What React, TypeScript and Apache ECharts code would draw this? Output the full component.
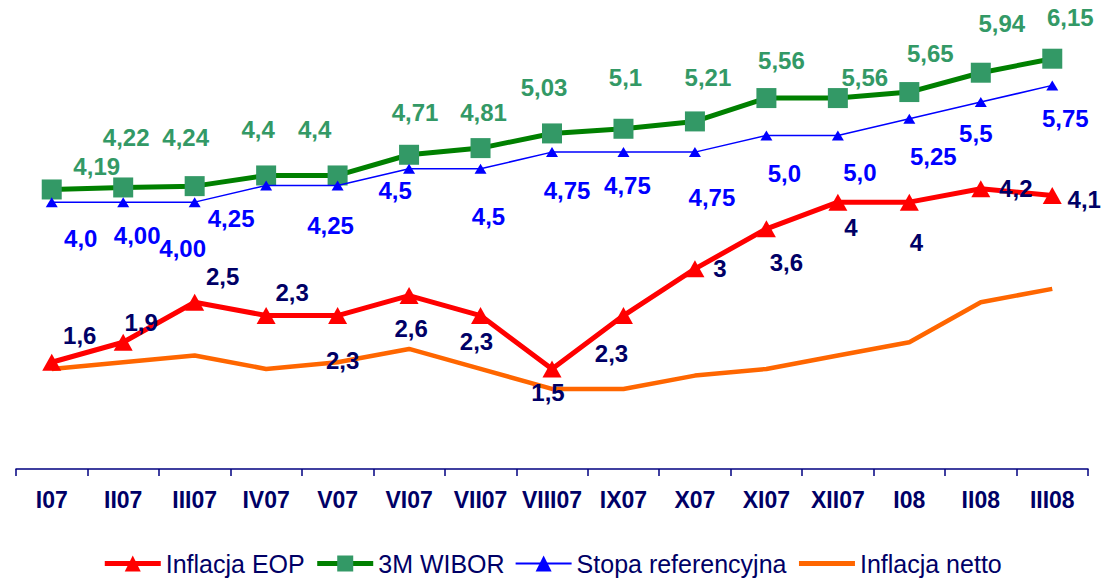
import React, { useEffect, useRef } from "react";
import * as echarts from "echarts";

const categories = ["I07", "II07", "III07", "IV07", "V07", "VI07", "VII07", "VIII07", "IX07", "X07", "XI07", "XII07", "I08", "II08", "III08"];
const inflacjaEOP = [1.6, 1.9, 2.5, 2.3, 2.3, 2.6, 2.3, 1.5, 2.3, 3.0, 3.6, 4.0, 4.0, 4.2, 4.1];
const wibor3M = [4.19, 4.22, 4.24, 4.4, 4.4, 4.71, 4.81, 5.03, 5.1, 5.21, 5.56, 5.56, 5.65, 5.94, 6.15];
const stopaRef = [4.0, 4.0, 4.0, 4.25, 4.25, 4.5, 4.5, 4.75, 4.75, 4.75, 5.0, 5.0, 5.25, 5.5, 5.75];
const stopaRefLabels = ["4,0", "4,00", "4,00", "4,25", "4,25", "4,5", "4,5", "4,75", "4,75", "4,75", "5,0", "5,0", "5,25", "5,5", "5,75"];
const inflacjaNetto = [1.5, 1.6, 1.7, 1.5, 1.6, 1.8, 1.5, 1.2, 1.2, 1.4, 1.5, 1.7, 1.9, 2.5, 2.7];
const seriesNames = ["Inflacja EOP", "3M WIBOR", "Stopa referencyjna", "Inflacja netto"];

// label placement (style only)
const redOffsets = [[28, -27], [18, -20], [28, -26], [26, -23], [5, 45], [2, 33], [-4, 26], [-4, 24], [-12, 38], [25, 0], [20, 34], [13, 25], [7, 40], [35, 0], [32, 4]];
const greenOffsets = [[45, -23], [3, -50], [-9, -49], [-8, -46], [-23, -46], [6, -42], [3, -36], [-8, -46], [2, -51], [13, -44], [15, -38], [27, -21], [21, -39], [21, -49], [18, -41]];
const blueOffsets = [[29, 36], [14, 33], [-12, 46], [-35, 33], [-7, 40], [-14, 22], [8, 48], [15, 38], [4, 33], [17, 45], [18, 38], [22, 37], [24, 38], [-5, 31], [13, 33]];

const fmt = (v: number) => String(v).replace(".", ",");
const FONT = "'Liberation Sans', Arial, sans-serif";

export default function App() {
  const ref = useRef<HTMLDivElement>(null);
  useEffect(() => {
    if (!ref.current) return;
    const chart = echarts.init(ref.current, undefined, { renderer: "svg" });
    const lbl = (color: string) => ({
      show: true,
      position: "inside",
      align: "center",
      verticalAlign: "middle",
      color,
      fontFamily: FONT,
      fontWeight: "bold",
      fontSize: 24,
    });
    chart.setOption({
      animation: false,
      backgroundColor: "#ffffff",
      grid: { left: 16, right: 16, top: 2, bottom: 112, containLabel: false },
      xAxis: {
        type: "category",
        data: categories,
        boundaryGap: true,
        axisLine: { lineStyle: { color: "#000080", width: 1.5 } },
        axisTick: { show: true, length: 7, lineStyle: { color: "#000080", width: 1.5 } },
        axisLabel: { color: "#000066", fontFamily: FONT, fontWeight: "bold", fontSize: 23, margin: 19, interval: 0 },
      },
      yAxis: { type: "value", min: 0, max: 7, show: false, splitLine: { show: false } },
      legend: {
        data: [
          { name: seriesNames[0], lineStyle: { width: 5 } },
          { name: seriesNames[1], lineStyle: { width: 5 } },
          { name: seriesNames[2], lineStyle: { width: 2 } },
          { name: seriesNames[3], lineStyle: { width: 5 }, itemStyle: { color: "rgba(0,0,0,0)", opacity: 0, borderWidth: 0 } },
        ],
        top: 546,
        left: "center",
        itemWidth: 56,
        itemHeight: 20,
        itemGap: 10,
        textStyle: { color: "#000066", fontFamily: FONT, fontSize: 25 },
      },
      series: [
        {
          name: seriesNames[3],
          type: "line",
          data: inflacjaNetto,
          symbol: "none",
          z: 1,
          itemStyle: { color: "#FF6600" },
          lineStyle: { color: "#FF6600", width: 4.5 },
        },
        {
          name: seriesNames[1],
          type: "line",
          z: 2,
          data: wibor3M.map((v, i) => ({ value: v, label: { offset: greenOffsets[i] } })),
          symbol: "rect",
          symbolSize: 20,
          showAllSymbol: true,
          itemStyle: { color: "#339966" },
          lineStyle: { color: "#008000", width: 5 },
          label: { ...lbl("#339966"), formatter: (p: any) => fmt(p.value) },
        },
        {
          name: seriesNames[2],
          type: "line",
          z: 3,
          data: stopaRef.map((v, i) => ({ value: v, label: { offset: blueOffsets[i] } })),
          symbol: "triangle",
          symbolSize: [12, 10],
          showAllSymbol: true,
          itemStyle: { color: "#0000FF" },
          lineStyle: { color: "#0000FF", width: 1.5 },
          label: { ...lbl("#0000FF"), formatter: (p: any) => stopaRefLabels[p.dataIndex] },
        },
        {
          name: seriesNames[0],
          type: "line",
          z: 4,
          data: inflacjaEOP.map((v, i) => ({ value: v, label: { offset: redOffsets[i] } })),
          symbol: "triangle",
          symbolSize: [19, 17],
          showAllSymbol: true,
          itemStyle: { color: "#FF0000" },
          lineStyle: { color: "#FF0000", width: 5 },
          label: { ...lbl("#000066"), formatter: (p: any) => fmt(p.value) },
        },
      ],
    });
    return () => chart.dispose();
  }, []);
  return (
    <div
      ref={ref}
      style={{ position: "absolute", left: 0, top: 0, width: 1104, height: 581, background: "#fff" }}
    />
  );
}
